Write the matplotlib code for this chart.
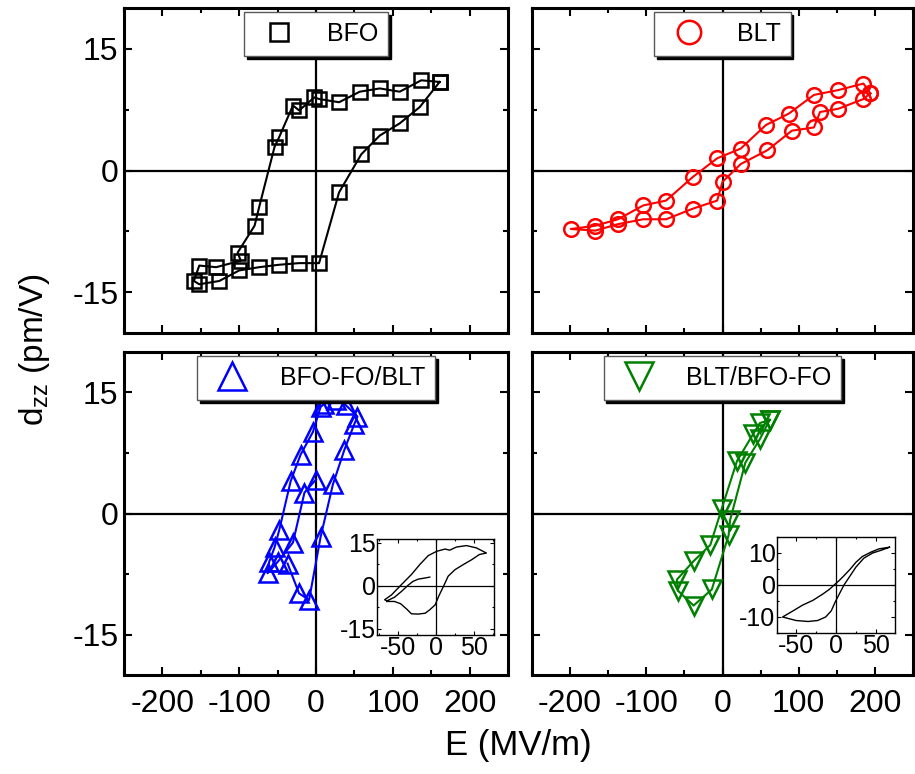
import matplotlib
matplotlib.use("Agg")
import matplotlib.pyplot as plt
from matplotlib.ticker import MultipleLocator

plt.rcParams['font.family'] = ['Liberation Sans', 'DejaVu Sans']
plt.rcParams['axes.unicode_minus'] = False

# ---- data (E in MV/m, d33 in pm/V) ----
bfo_e = [161, 137, 109, 83, 57, 30, 4, -2, -22, -30, -48, -54, -74, -80, -102, -98,
         -130, -152, -159, -152, -126, -100, -74, -48, -22, 4, 30, 59, 83, 109, 135, 161]
bfo_d = [10.9, 11.1, 9.7, 10.1, 9.7, 8.4, 8.8, 9.0, 7.4, 8.0, 4.1, 2.9, -4.5, -6.8, -10.1, -11.1,
         -11.9, -11.7, -13.6, -14.0, -13.6, -12.3, -11.9, -11.6, -11.4, -11.4, -2.7, 2.0, 4.3, 5.8, 7.8, 10.9]

blt_e = [194, 185, 152, 120, 87, 57, 24, -7, -39, -74, -104, -137, -167, -199,
         -167, -137, -104, -74, -39, -7, 0, 24, 59, 91, 120, 128, 152, 185, 194]
blt_d = [9.5, 10.7, 9.9, 9.3, 7.0, 5.6, 2.7, 1.5, -0.8, -3.7, -4.3, -6.0, -6.8, -7.2,
         -7.4, -6.6, -6.0, -6.0, -4.7, -3.7, -1.4, 0.8, 2.5, 4.9, 5.3, 7.2, 7.6, 8.8, 9.5]

bfblt_e = [0, -15, -30, -50, -63, -61, -54, -48, -33, -20, -4, 6, 11, 26, 39, 54, 50, 37, 22, 6, -9, -22, -37]
bfblt_d = [4.2, 2.6, -3.6, -6.0, -7.4, -6.0, -4.2, -2.1, 4.0, 7.3, 10.1, 13.2, 13.6, 14.0, 13.4, 12.0,
           11.1, 7.9, 3.6, -2.9, -10.7, -9.9, -6.2]

bltbf_e = [62, 49, 40, 19, -1, -16, -38, -60, -58, -38, -14, 8, 10, 30, 49, 62]
bltbf_d = [11.6, 11.2, 9.8, 6.5, 0.6, -3.9, -5.9, -8.2, -9.6, -11.4, -9.4, -2.7, -0.8, 6.3, 9.2, 11.6]

# insets
in1_e = [-8, -14, -23, -30, -37, -45, -54, -64, -67, -58, -45, -32, -21, -10, 1, 12, 18, 27, 40, 53, 66,
         57, 47, 36, 25, 16, 10, 4, -1, -8, -14, -23, -32, -38, -46, -54, -64]
in1_d = [3.0, 2.7, 2.3, 1.5, 0.0, -2.0, -4.0, -5.3, -4.9, -3.2, 0.4, 3.9, 7.4, 10.5, 12.0, 12.8, 12.4, 13.5,
         14.0, 13.2, 11.4, 10.9, 9.1, 7.4, 5.6, 3.3, -0.2, -3.5, -6.7, -8.4, -9.6, -9.9, -9.8, -8.2, -6.3, -5.5, -5.5]

in2_e = [67, 54, 44, 33, 25, 18, 10, 4, -1, -8, -17, -29, -42, -54, -67,
         -50, -35, -23, -13, -6, -1, 5, 10, 17, 25, 35, 46, 56, 67]
in2_d = [11.8, 11.3, 10.3, 8.9, 7.1, 5.0, 2.9, 1.4, 0.3, -1.3, -2.9, -4.8, -6.3, -8.1, -10.0,
         -11.1, -11.4, -11.1, -10.0, -8.1, -5.3, -2.4, 0.0, 2.6, 5.6, 8.4, 10.0, 10.8, 11.8]

W, H = 915, 774
fig = plt.figure(figsize=(W / 100, H / 100), dpi=100)


def px_axes(x0, y0, x1, y1):
    return fig.add_axes([x0 / W, 1 - y1 / H, (x1 - x0) / W, (y1 - y0) / H])


def style_main(ax, show_x, show_y):
    ax.set_xlim(-250, 250)
    ax.set_ylim(-20, 20)
    ax.axhline(0, color='k', lw=1.6, zorder=1)
    ax.axvline(0, color='k', lw=1.6, zorder=1)
    ax.xaxis.set_major_locator(MultipleLocator(100))
    ax.xaxis.set_minor_locator(MultipleLocator(50))
    ax.yaxis.set_major_locator(MultipleLocator(15))
    ax.yaxis.set_minor_locator(MultipleLocator(7.5))
    ax.tick_params(which='both', direction='in', top=True, right=True, width=1.5, labelsize=23)
    ax.tick_params(which='major', length=6)
    ax.tick_params(which='minor', length=3.5)
    ax.tick_params(axis='x', pad=10)
    ax.tick_params(axis='y', pad=4)
    ax.tick_params(labelbottom=show_x, labelleft=show_y)
    for s in ax.spines.values():
        s.set_linewidth(2.2)


panels = [
    ((124, 8, 508, 333), bfo_e, bfo_d, 'k', 's', 9.5, 1.3, 'BFO', False, True),
    ((532, 8, 913, 333), blt_e, blt_d, '#ff0000', 'o', 10.5, 1.6, 'BLT', False, False),
    ((124, 352, 508, 675), bfblt_e, bfblt_d, '#0000ff', '^', 13, 1.5, 'BFO-FO/BLT', True, True),
    ((532, 352, 913, 675), bltbf_e, bltbf_d, '#008000', 'v', 13, 1.5, 'BLT/BFO-FO', True, False),
]

for box, e, d, c, m, ms, mscale, name, sx, sy in panels:
    ax = px_axes(*box)
    style_main(ax, sx, sy)
    ax.plot(e, d, color=c, lw=1.5, zorder=2)
    ax.plot(e, d, ls='none', marker=m, ms=ms, mfc='none', mec=c, mew=1.8, label=name, zorder=3)
    leg = ax.legend(loc='upper center', fontsize=18, markerscale=mscale, fancybox=False,
                    shadow={'color': 'black', 'alpha': 1}, borderaxespad=0.15,
                    handletextpad=0.9, framealpha=1)
    leg.get_frame().set_edgecolor('0.35')
    leg.get_frame().set_linewidth(1.0)


def style_inset(ax, xlim, ylim, yticks):
    ax.set_xlim(*xlim)
    ax.set_ylim(*ylim)
    ax.axhline(0, color='k', lw=0.9)
    ax.axvline(0, color='k', lw=0.9)
    ax.set_xticks([-50, 0, 50])
    ax.set_yticks(yticks)
    ax.xaxis.set_minor_locator(MultipleLocator(25))
    ax.yaxis.set_minor_locator(MultipleLocator(yticks[-1] / 2))
    ax.tick_params(which='both', direction='in', top=True, right=True, width=0.8, labelsize=18, pad=1)
    ax.tick_params(which='major', length=3)
    ax.tick_params(which='minor', length=1.5)
    for s in ax.spines.values():
        s.set_linewidth(1.0)


ins1 = px_axes(377, 539, 494, 635)
ins1.plot(in1_e, in1_d, color='k', lw=1.0)
style_inset(ins1, (-77, 76), (-17.2, 16.3), [-15, 0, 15])

ins2 = px_axes(777, 537, 895, 633)
ins2.plot(in2_e, in2_d, color='k', lw=1.0)
style_inset(ins2, (-74, 74), (-15, 15), [-10, 0, 10])

fig.text(35 / W, 1 - 350 / H, r'd$_\mathregular{zz}$ (pm/V)', rotation=90,
         ha='center', va='center', fontsize=24)
fig.text(518 / W, 1 - 745 / H, 'E (MV/m)', ha='center', va='center', fontsize=25,
         family=['Liberation Sans Narrow', 'Liberation Sans'])

fig.savefig('out.png', dpi=100)
